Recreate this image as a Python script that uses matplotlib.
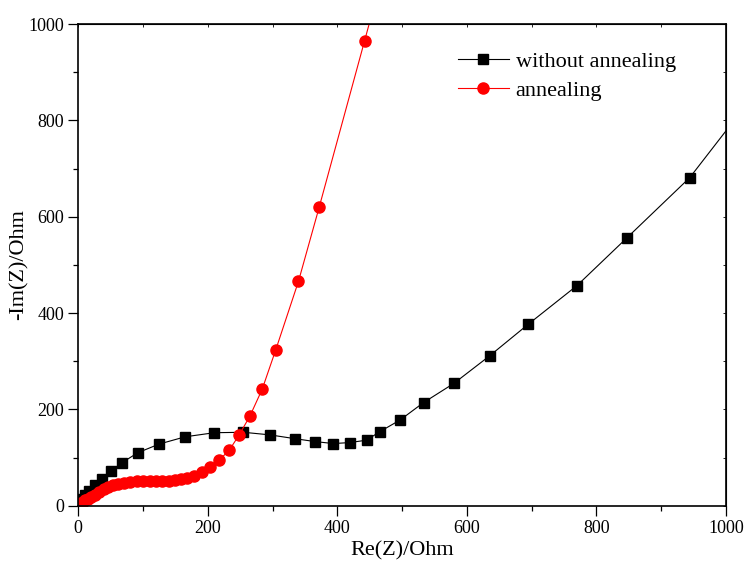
import numpy as np
import matplotlib
matplotlib.use("Agg")
from matplotlib import pyplot as plt
from matplotlib.ticker import MultipleLocator

plt.rcParams['font.family'] = ['Liberation Serif', 'DejaVu Serif']

# without annealing (black squares)
re_wo = [0.5, 1.5, 4.6, 9.9, 16.5, 25.8, 36.6, 50, 67.5, 92, 125, 165, 210,
         255, 296, 335, 366, 394, 419, 445, 466, 497, 533, 580, 635, 695,
         770, 847, 944, 1050]
im_wo = [2, 7.7, 13.3, 21.6, 31.1, 42.3, 55.4, 72, 89.3, 110, 128, 143, 151.5,
         152.4, 147, 139, 133, 129, 131, 136, 154, 178, 214, 254, 311, 377,
         457, 556, 681, 865]

# annealing (red circles)
re_an = [0.5, 2, 4, 7, 11, 15, 20, 26, 32, 39, 46, 54, 62, 71, 80, 90, 100,
         110, 120, 130, 140, 150, 159, 168, 179, 191, 204, 217, 233, 248, 265,
         284, 305, 340, 372, 442, 520]
im_an = [0.5, 2.5, 5, 8, 11, 14, 18, 23, 28, 34, 39, 43, 46, 48, 50, 51, 52,
         52, 52, 52, 52, 53, 55, 57, 61, 69, 80, 94, 115, 146, 186,
         242, 324, 466, 620, 965, 1350]

fig = plt.figure(figsize=(7.44, 5.61), dpi=100)
ax = fig.add_axes([0.1052, 0.0986, 0.8706, 0.8586])

ax.plot(re_wo, im_wo, color="black", lw=0.8, marker="s", markersize=7,
        label="without annealing")
ax.plot(re_an, im_an, color="red", lw=0.8, marker="o", markersize=8,
        label="annealing")

ax.set_xlim(0, 1000)
ax.set_ylim(0, 1000)
ax.xaxis.set_major_locator(MultipleLocator(200))
ax.xaxis.set_minor_locator(MultipleLocator(100))
ax.yaxis.set_major_locator(MultipleLocator(200))
ax.yaxis.set_minor_locator(MultipleLocator(100))

for s in ax.spines.values():
    s.set_linewidth(1.2)
ax.tick_params(which="major", direction="out", length=7, width=0.9,
               labelsize=13, pad=3)
ax.tick_params(which="minor", direction="out", length=3.5, width=0.9)
# top/right ticks tiny and inward
ax2 = ax.secondary_xaxis("top")
ax2.set_xticks(np.arange(0, 1001, 100))
ax2.tick_params(direction="in", length=2, width=0.6, labeltop=False)
ax3 = ax.secondary_yaxis("right")
ax3.set_yticks(np.arange(0, 1001, 100))
ax3.tick_params(direction="in", length=2, width=0.6, labelright=False)

ax.set_xlabel("Re(Z)/Ohm", fontsize=16, labelpad=3)
ax.set_ylabel("-Im(Z)/Ohm", fontsize=16, labelpad=0)

ax.legend(loc="upper left", bbox_to_anchor=(0.555, 0.985), frameon=False,
          fontsize=16, handlelength=2.3, handletextpad=0.3, labelspacing=0.4)

fig.savefig("out.png", dpi=100)
